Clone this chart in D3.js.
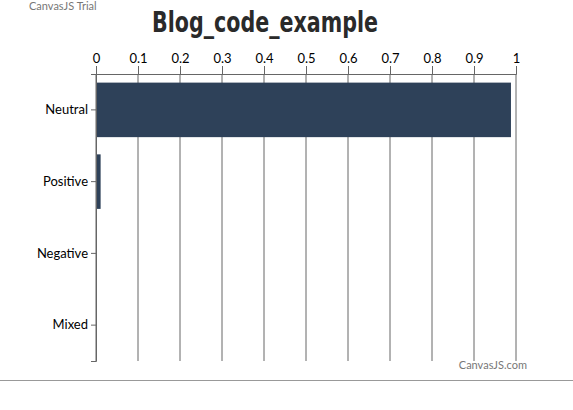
<!DOCTYPE html>
<html><head><meta charset="utf-8">
<script src="https://cdn.jsdelivr.net/npm/d3@7"></script>
<style>body{margin:0;background:#fff}</style></head>
<body><svg id="c" width="573" height="410"></svg>
<script>
const categories = ["Neutral","Positive","Negative","Mixed"];
const values = [0.988, 0.011, 0.001, 0];
const ticks = [0,0.1,0.2,0.3,0.4,0.5,0.6,0.7,0.8,0.9,1];

const svg = d3.select("#c");
const x = d3.scaleLinear().domain([0,1]).range([96,516]);
const y = d3.scaleBand().domain(categories).range([74,361]).paddingInner(0.24).paddingOuter(0.12);

// gridlines
svg.append("g").selectAll("line").data(ticks).join("line")
  .attr("x1",d=>x(d)).attr("x2",d=>x(d)).attr("y1",74).attr("y2",361)
  .attr("stroke","#666").attr("stroke-width",1);

// bars
svg.append("g").selectAll("rect").data(values).join("rect")
  .attr("x",x(0)).attr("y",(d,i)=>y(categories[i]))
  .attr("width",d=>x(d)-x(0)).attr("height",y.bandwidth())
  .attr("fill","#2e4159");

// top axis
const xa = svg.append("g").attr("transform","translate(0,74)")
  .call(d3.axisTop(x).tickValues(ticks).tickSize(8).tickPadding(3).tickFormat(d3.format("")));
xa.select(".domain").attr("stroke","#666");
xa.selectAll(".tick line").attr("stroke","#666");
xa.selectAll("text").attr("font-family","Lato, 'DejaVu Sans', sans-serif").attr("font-size",13).attr("fill","#000");

// left axis
const ya = svg.append("g").attr("transform","translate(96,0)")
  .call(d3.axisLeft(y).tickSize(5).tickPadding(3));
ya.select(".domain").attr("stroke","#666");
ya.selectAll(".tick line").attr("stroke","#666");
ya.selectAll("text").attr("font-family","Lato, 'DejaVu Sans', sans-serif").attr("font-size",13).attr("fill","#000");

svg.append("text").attr("x",265).attr("y",32).attr("text-anchor","middle")
  .attr("font-family","'DejaVu Sans Condensed', 'DejaVu Sans', sans-serif").attr("font-weight","bold")
  .attr("font-size",29).attr("fill","#2a2a2a").attr("textLength",226).attr("lengthAdjust","spacingAndGlyphs")
  .text("Blog_code_example");
svg.append("text").attr("x",29).attr("y",10).attr("font-family","Lato, sans-serif").attr("font-size",11).attr("fill","#777").text("CanvasJS Trial");
svg.append("text").attr("x",527).attr("y",369).attr("text-anchor","end").attr("font-family","Lato, sans-serif").attr("font-size",11).attr("fill","#777").text("CanvasJS.com");
svg.append("line").attr("x1",0).attr("x2",573).attr("y1",380.5).attr("y2",380.5).attr("stroke","#999");
</script></body></html>
